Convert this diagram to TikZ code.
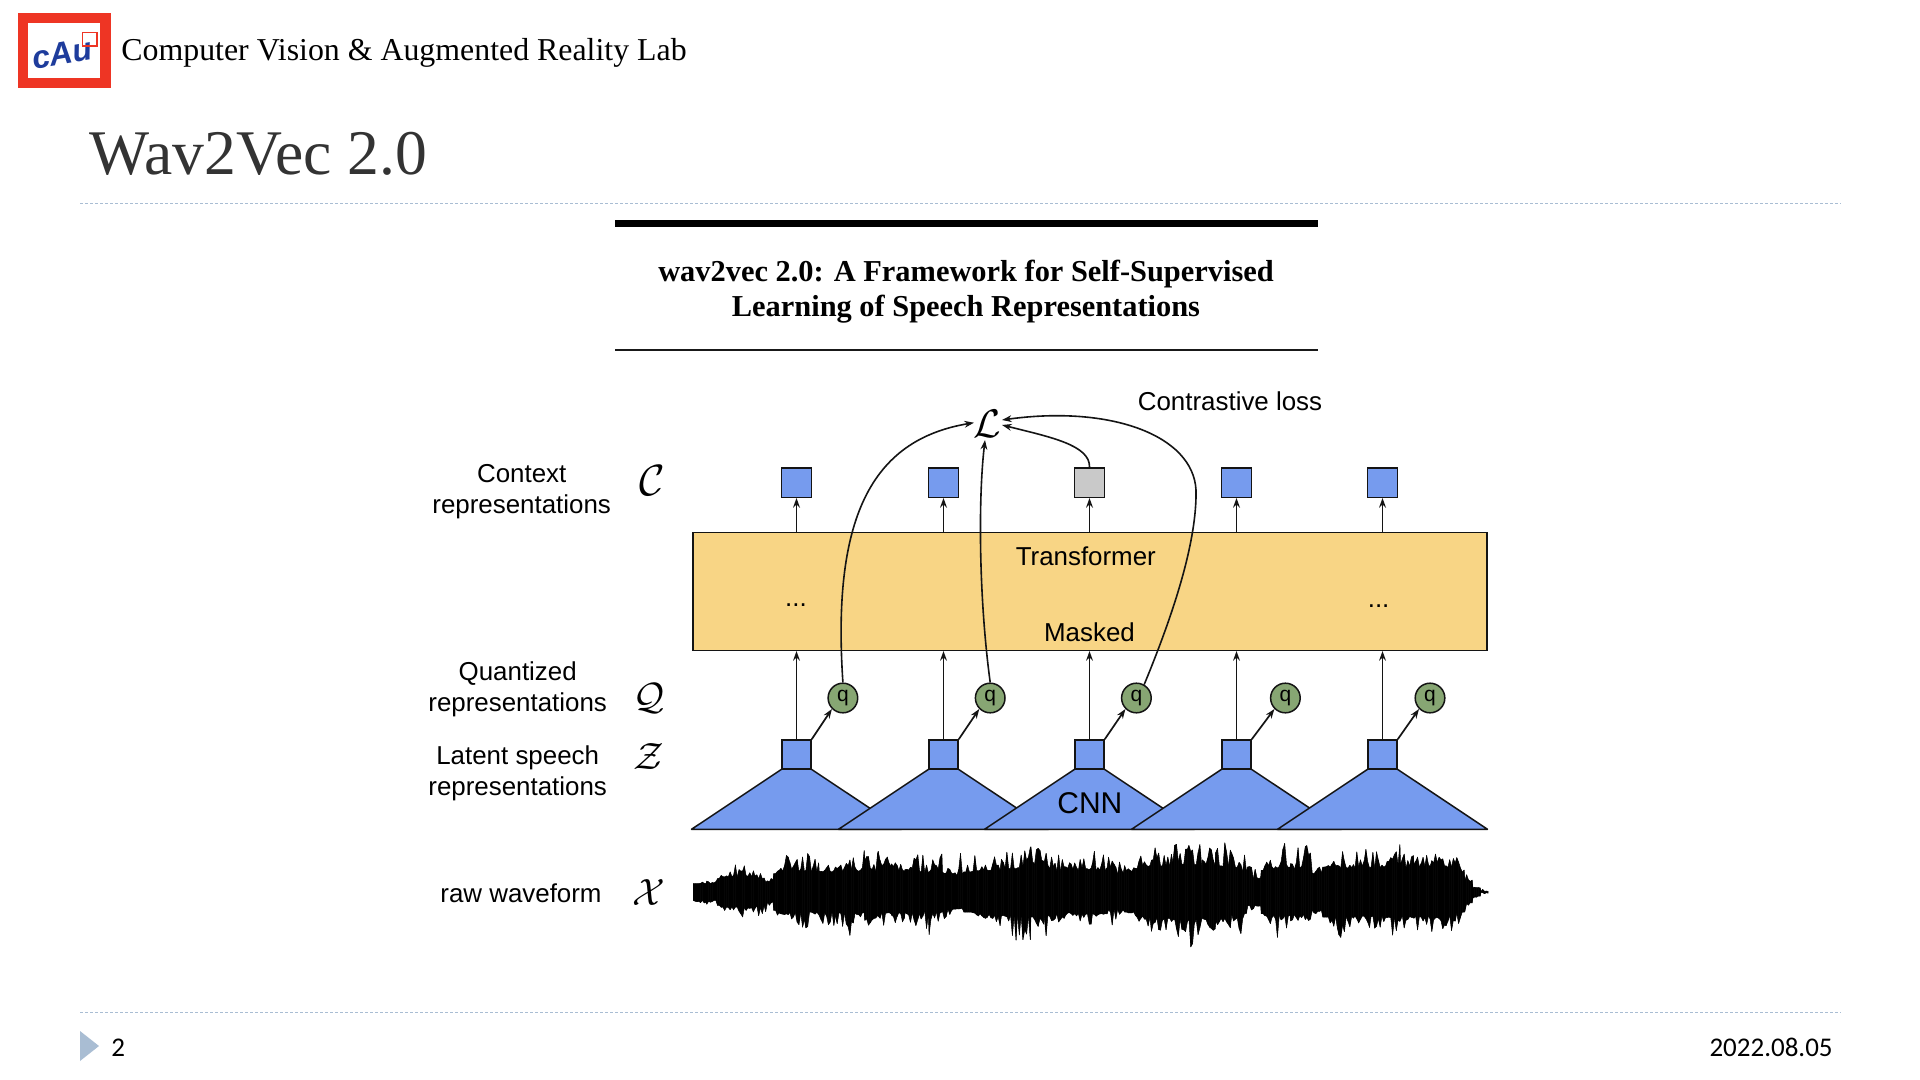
\documentclass[tikz,border=0pt]{standalone}
\usepackage{fontspec}
\setmainfont{Liberation Serif}
\newfontfamily\dsans{Liberation Sans}
\newfontfamily\fsans{Carlito}
\usetikzlibrary{arrows.meta,calc}
\definecolor{sqblue}{HTML}{769BEE}
\definecolor{boxyel}{HTML}{F8D585}
\definecolor{qgreen}{HTML}{87A673}
\definecolor{sqgray}{HTML}{C9C9C9}
\definecolor{logored}{HTML}{EE3524}
\definecolor{logoblue}{HTML}{1E3C9C}
\definecolor{dotline}{HTML}{A9BDD3}
\definecolor{inkline}{HTML}{141414}
\tikzset{
  sq/.style={draw=inkline,line width=0.75pt,fill=sqblue,inner sep=0pt,minimum width=14.5pt,minimum height=14.5pt},
  csq/.style={sq,minimum width=15pt,minimum height=14.75pt},
  qc/.style={draw=inkline,line width=0.75pt,fill=qgreen,circle,inner sep=0pt,minimum size=14.8pt,font=\dsans\fontsize{10.5}{10.5}\selectfont},
  lab/.style={font=\dsans\fontsize{12.95}{15.4}\selectfont,align=center,text=black,inner sep=0pt},
  onelab/.style={lab,font=\dsans\fontsize{12.95}{12.95}\selectfont},
  sym/.style={inner sep=0pt,scale=1.9},
  arr/.style={-{Stealth[length=4.8pt,width=3.4pt]},line width=0.85pt,draw=inkline},
  cv/.style={-{Stealth[length=4.8pt,width=3.4pt]},line width=0.8pt,draw=inkline},
  trap/.style={draw=inkline,line width=0.75pt,fill=sqblue,line join=round},
  dotted line/.style={draw=dotline,line width=0.6pt,dash pattern=on 1.4pt off 1.1pt},
}
\begin{document}
\begin{tikzpicture}[x=0.5pt,y=-0.5pt]
\useasboundingbox (0,0) rectangle (1920,1080);
\fill[white] (0,0) rectangle (1920,1080);
% header
\fill[logored] (17.5,13.3) rectangle (110.5,88.3);
\fill[white] (28,23.3) rectangle (100,78.3);
\node[inner sep=0pt,text=logoblue,rotate=10] (logotxt) at (62,54) {\dsans\fontsize{16}{16}\selectfont\bfseries\itshape\addfontfeatures{Kerning=Off}cAu};
\draw[logored,line width=0.6pt] (82.4,32.3) rectangle (97,46);
\node[anchor=base west,inner sep=0pt] (lab) at (121,61) {\fontsize{15.93}{16}\selectfont Computer Vision \& Augmented Reality Lab};
\node[anchor=base west,inner sep=0pt,text=black!80] (title) at (89,175) {\fontsize{31.8}{32}\selectfont Wav2Vec 2.0};
\coordinate (tl1) at (80,203.5); \coordinate (tl2) at (1841,203.5);
\draw[dotted line] (tl1) -- (tl2);
\coordinate (bl1) at (80,1012.5); \coordinate (bl2) at (1841,1012.5);
\draw[dotted line] (bl1) -- (bl2);
\fill[dotline] (80,1031) -- (99,1046) -- (80,1061) -- cycle;
\node[anchor=base west,inner sep=0pt] (pg) at (111,1056) {\fsans\fontsize{13.5}{13.5}\selectfont 2};
\node[anchor=base east,inner sep=0pt] (dt) at (1833,1056) {\fsans\fontsize{13.5}{13.5}\selectfont 2022.08.05};
% paper header
\fill[black] (615,220.5) rectangle (1318,227.5);
\fill[black!90] (615,349.4) rectangle (1318,351);
\node[anchor=base,inner sep=0pt] (pt1) at (966,282) {\fontsize{15.2}{15}\selectfont\bfseries wav2vec 2.0: A Framework for Self-Supervised};
\node[anchor=base,inner sep=0pt] (pt2) at (966,317) {\fontsize{15.2}{15}\selectfont\bfseries Learning of Speech Representations};
% transformer
\node[draw=inkline,line width=0.75pt,fill=boxyel,inner sep=0pt,minimum width=397pt,minimum height=58.8pt] (tf) at (1089.9,591.5) {};
\node[onelab] (tft) at (1085.8,556.7) {Transformer};
\node[onelab] (tfm) at (1089.5,632.7) {Masked};
\node[onelab,anchor=base] (d1) at (796,606) {...};
\node[onelab,anchor=base] (d2) at (1378.6,607.5) {...};
% cnn trapezoids and latents
\foreach \n/\cx in {1/796.5,2/943.5,3/1089.5,4/1236.5,5/1382.5}{
  \draw[trap] ($(\cx,754.5)+(-14.5,14.5)$) -- (\cx-105,829.3) -- (\cx+105,829.3) -- ($(\cx,754.5)+(14.5,14.5)$) -- cycle;
  \node[sq] (z\n) at (\cx,754.5) {};
  \node[csq] (c\n) at (\cx,482.5) {};
  \draw[arr] (z\n.north) -- (z\n.north |- tf.south);
  \draw[arr] (c\n.south |- tf.north) -- (c\n.south);
}
\node[csq,fill=sqgray] (c3) at (1089.5,482.5) {};
\node[lab,font=\dsans\fontsize{15}{15}\selectfont] (cnn) at (1089.9,803.3) {CNN};
\foreach \n/\qx in {1/842.9,2/990.2,3/1136.4,4/1285.4,5/1430}{
  \node[qc] (q\n) at (\qx,698) {q};
  \draw[arr] (z\n.north east) -- (q\n.225);
}
% loss
\node[sym,scale=1.05] (L) at (987,424) {$\mathcal{L}$};
\coordinate (L1) at (974,422.7);
\coordinate (L2) at (985,440);
\coordinate (L3) at (1002,425);
\coordinate (L4) at (1002,420);
\draw[cv] (q1.north) .. controls (832,520) and (870,440) .. (L1);
\draw[cv] (q2.north) .. controls (979,600) and (978,500) .. (L2);
\draw[cv] (c3.north) .. controls (1090,445) and (1050,437) .. (L3);
\draw[cv] (q3.60) .. controls (1175,610) and (1197,540) .. (1196,490) .. controls (1193,435) and (1110,405) .. (L4);
\node[onelab,anchor=base] (cl) at (1230,410) {Contrastive loss};
% side labels
\node[lab] (l1) at (521.7,492) {Context\\representations};
\node[lab] (l2) at (517.7,689) {Quantized\\representations};
\node[lab] (l3) at (517.7,773.5) {Latent speech\\representations};
\node[onelab] (l4) at (521,893.5) {raw waveform};
\node[sym,scale=1.15] (sc) at (652,481) {$\mathcal{C}$};
\node[sym] (sq) at (649,698) {$\mathcal{Q}$};
\node[sym] (sz) at (649,757) {$\mathcal{Z}$};
\node[sym] (sx) at (649,893) {$\mathcal{X}$};
% waveform
\pgfmathsetseed{11}
\gdef\lx{25}\gdef\lu{170}\gdef\ld{200}
\begin{scope}[shift={(680,830)},x=0.26786pt,y=-0.16667pt]
\foreach \xa/\ta/\ba/\ct [remember=\xa as \xp (initially 25),remember=\ta as \tp (initially 165),remember=\ba as \bp (initially 210)] in {
35/150/230/25,50/150/225/25,70/155/215/25,80/120/260/40,100/95/270/45,120/90/280/45,140/115/265/45,160/115/260/40,175/150/215/30,185/90/285/55,205/65/295/62,235/65/295/62,260/85/290/60,290/100/315/60,320/70/320/62,345/60/285/62,370/60/300/62,395/55/280/62,420/90/290/62,450/60/310/62,465/100/330/58,490/55/300/60,510/120/250/50,530/45/230/50,560/85/270/60,600/70/290/65,630/55/335/70,655/40/330/72,680/50/320/72,700/50/310/70,730/85/260/62,770/65/290/65,800/40/300/65,830/60/240/52,850/90/265/60,880/45/330/70,920/35/300/78,950/25/360/82,975/35/330/80,1000/15/300/78,1030/50/360/75,1060/70/290/62,1085/140/225/40,1105/35/350/65,1140/40/290/70,1170/45/280/68,1200/120/240/55,1230/40/330/75,1260/60/290/72,1290/55/300/72,1320/70/320/72,1345/40/310/75,1370/60/300/72,1400/55/320/72,1430/45/330/75,1450/60/300/70,1465/100/260/60,1480/150/220/32,1495/175/200/12,1510/186/190/2}{
  \pgfmathsetmacro\xq{\xp+3.4}
  \foreach \xx in {\xp,\xq,...,\xa}{
    \pgfmathsetmacro\tfrac{(\xx-\xp)/(\xa-\xp)}
    \pgfmathsetmacro\ttop{\tp+(\ta-\tp)*\tfrac}
    \pgfmathsetmacro\tbot{\bp+(\ba-\bp)*\tfrac}
    \pgfmathsetmacro\ra{rnd}
    \pgfmathsetmacro\rb{rnd}
    \pgfmathsetmacro\yu{186-\ct-max(0,186-\ttop-\ct)*\ra*\ra}
    \pgfmathsetmacro\yd{186+\ct+max(0,\tbot-186-\ct)*\rb*\rb}
    \fill[black,draw=black,line width=0.25pt,line join=round] (\lx,\lu) -- (\xx,\yu) -- (\xx,\yd) -- (\lx,\ld) -- cycle;
    \global\let\lx\xx\global\let\lu\yu\global\let\ld\yd
  }
}
\end{scope}
\end{tikzpicture}
\end{document}
